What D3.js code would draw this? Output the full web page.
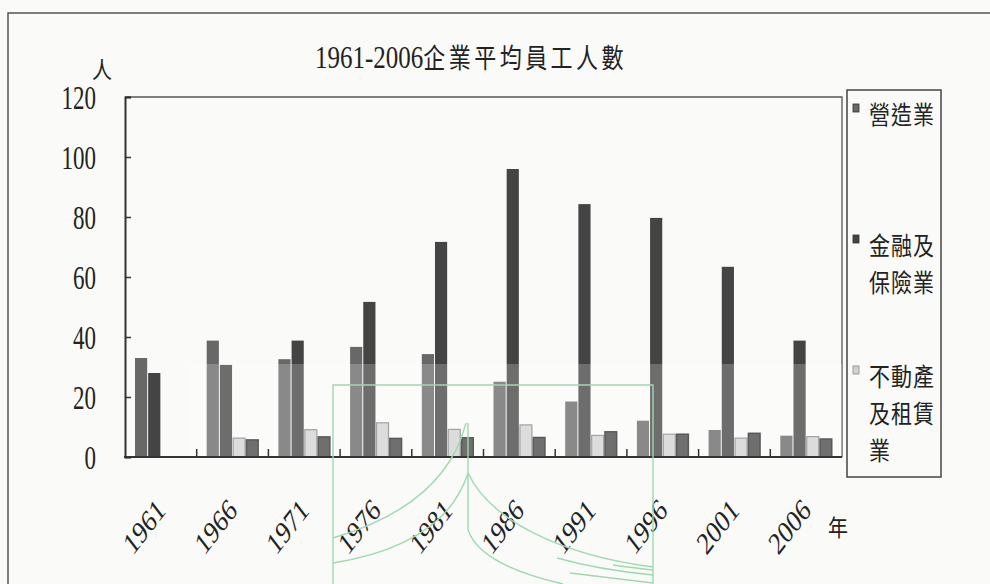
<!DOCTYPE html>
<html>
<head>
<meta charset="utf-8">
<script src="https://cdn.jsdelivr.net/npm/d3@7"></script>
<style>
  html, body { margin: 0; padding: 0; background: #fafaf8; }
  svg { display: block; }
</style>
</head>
<body>
<svg id="chart" width="990" height="584"></svg>
<script>
// Average number of employees per enterprise, 1961-2006
const years = [1961, 1966, 1971, 1976, 1981, 1986, 1991, 1996, 2001, 2006];
const construction = [33, 38.8, 32.6, 36.7, 34.3, 25.1, 18.5, 12.1, 9, 7.1];        // 營造業
const finance = [28, 30.7, 38.8, 51.7, 71.7, 96, 84.3, 79.7, 63.4, 38.8];           // 金融及保險業
const realEstate = [null, 6.3, 9.1, 11.4, 9.2, 10.7, 7.2, 7.6, 6.3, 6.8];           // 不動產及租賃業
const fourthIndustry = [null, 5.7, 6.7, 6.2, 6.4, 6.5, 8.4, 7.6, 7.9, 6];
const yTicks = [0, 20, 40, 60, 80, 100, 120];
const legendNames = [["營造業"], ["金融及", "保險業"], ["不動產", "及租賃", "業"]];

const seriesList = [
  { values: construction, fill: "#686868", stroke: "none", sw: 0 },
  { values: finance, fill: "#444444", stroke: "none", sw: 0 },
  { values: realEstate, fill: "#d2d2d2", stroke: "#8a8a8a", sw: 1.2 },
  { values: fourthIndustry, fill: "#474747", stroke: "#2c2c2c", sw: 1.5 }
];

const svg = d3.select("#chart");
const plot = { left: 125, top: 97, right: 842, bottom: 457 };

const serif = "'Liberation Serif', 'DejaVu Serif', serif";
const cjk = "'Noto Sans CJK TC', 'Noto Sans CJK SC', sans-serif";

// page frame
svg.append("path")
  .attr("d", "M8,584 V13 H990")
  .attr("fill", "none").attr("stroke", "#555").attr("stroke-width", 1.5);

const x = d3.scaleBand().domain(years).range([plot.left, plot.right]).padding(0);
const inner = d3.scaleBand().domain(d3.range(seriesList.length))
  .range([9.5, x.bandwidth() - 9.5]).padding(0);
const y = d3.scaleLinear().domain([0, 120]).range([plot.bottom, plot.top]);

// plot area frame (top and right edges)
svg.append("path")
  .attr("d", `M${plot.left},${plot.top} H${plot.right} V${plot.bottom}`)
  .attr("fill", "none").attr("stroke", "#555").attr("stroke-width", 1.3);

// bars
const groups = svg.append("g").selectAll("g")
  .data(years).join("g")
  .attr("transform", d => `translate(${x(d)},0)`);

seriesList.forEach((s, si) => {
  groups.filter((d, i) => s.values[i] != null)
    .append("rect")
    .attr("x", inner(si) + (s.sw ? s.sw / 2 : 0.5))
    .attr("width", inner.bandwidth() - (s.sw ? s.sw : 1))
    .attr("y", d => y(s.values[years.indexOf(d)]))
    .attr("height", d => y(0) - y(s.values[years.indexOf(d)]))
    .attr("fill", s.fill)
    .attr("stroke", s.stroke)
    .attr("stroke-width", s.sw);
});

// lighter lower band of the printed page
svg.append("rect")
  .attr("x", 190).attr("y", y(31))
  .attr("width", plot.right - 190).attr("height", y(0) - y(31) - 1)
  .attr("fill", "#ffffff").attr("opacity", 0.22);

// y axis
const yAxis = svg.append("g")
  .attr("transform", `translate(${plot.left},0)`)
  .call(d3.axisLeft(y).tickValues(yTicks).tickSize(-6).tickPadding(29));
yAxis.select(".domain").attr("stroke", "#333").attr("stroke-width", 2);
yAxis.selectAll(".tick line").attr("stroke", "#333").attr("stroke-width", 1.5);
yAxis.selectAll(".tick text")
  .attr("font-family", serif).attr("font-size", 23).attr("fill", "#222")
  .attr("dy", "0.34em")
  .attr("transform", "scale(1,1.45)")
  .attr("y", 0);

// x axis baseline and group separators
svg.append("line")
  .attr("x1", plot.left - 1).attr("x2", plot.right)
  .attr("y1", plot.bottom).attr("y2", plot.bottom)
  .attr("stroke", "#333").attr("stroke-width", 2);
svg.append("g").selectAll("line")
  .data(years.slice(1)).join("line")
  .attr("x1", d => x(d)).attr("x2", d => x(d))
  .attr("y1", plot.bottom).attr("y2", plot.bottom - 8)
  .attr("stroke", "#333").attr("stroke-width", 1.5);

// year labels
svg.append("g").selectAll("text")
  .data(years).join("text")
  .attr("transform", d => `translate(${x(d) + x.bandwidth() / 2 + 6},512) scale(1,1.3) rotate(-45)`)
  .attr("text-anchor", "end")
  .attr("font-family", serif).attr("font-size", 24).attr("fill", "#222")
  .text(d => d);

// axis units
svg.append("text")
  .attr("transform", "translate(102,70) scale(1,1.15)")
  .attr("text-anchor", "middle").attr("dy", "0.36em")
  .attr("font-family", cjk).attr("font-size", 20).attr("fill", "#222")
  .text("人");
svg.append("text")
  .attr("transform", "translate(838,528) scale(1,1.15)")
  .attr("text-anchor", "middle").attr("dy", "0.36em")
  .attr("font-family", cjk).attr("font-size", 20).attr("fill", "#222")
  .text("年");

// title
const title = svg.append("text")
  .attr("transform", "translate(471,61) scale(1,1.25)")
  .attr("text-anchor", "middle").attr("dy", "0.36em")
  .attr("fill", "#222");
title.append("tspan").attr("font-family", serif).attr("font-size", 25).text("1961-2006");
title.append("tspan").attr("font-family", cjk).attr("font-size", 22).attr("letter-spacing", 3.5).text("企業平均員工人數");

// legend
svg.append("rect")
  .attr("x", 847).attr("y", 90).attr("width", 94).attr("height", 387)
  .attr("fill", "none").attr("stroke", "#444").attr("stroke-width", 1.5);

const legendItems = svg.append("g").selectAll("g")
  .data(legendNames).join("g")
  .attr("transform", (d, i) => `translate(853,${115 + i * 131})`);
legendItems.append("rect")
  .attr("x", 0).attr("y", -11).attr("width", 6).attr("height", 8)
  .attr("fill", (d, i) => seriesList[i].fill)
  .attr("stroke", (d, i) => i === 2 ? "#8a8a8a" : "#333")
  .attr("stroke-width", 0.8);
legendItems.each(function(lines) {
  d3.select(this).selectAll("text")
    .data(lines).join("text")
    .attr("transform", (t, j) => `translate(16,${j * 37}) scale(1,1.18)`)
    .attr("dy", "0.36em")
    .attr("font-family", cjk).attr("font-size", 21).attr("letter-spacing", 1)
    .attr("fill", "#222")
    .text(t => t);
});

// library stamp printed over the page
const stamp = svg.append("g")
  .attr("fill", "none").attr("stroke", "#9fd9b0").attr("stroke-width", 1.4);
stamp.append("path").attr("d", "M333,584 V385 H653 V584");
stamp.append("path").attr("d", "M333,538 Q445,505 466,423");
stamp.append("path").attr("d", "M333,563 Q445,545 468,473");
stamp.append("path").attr("d", "M468,423 V530 Q480,565 563,584");
stamp.append("path").attr("d", "M468,473 C490,520 560,555 653,567");
stamp.append("path").attr("d", "M557,558 Q600,570 653,575");
stamp.append("path").attr("d", "M570,573 Q610,578 653,583");
stamp.append("path").attr("d", "M613,565 Q635,568 653,570");
</script>
</body>
</html>
